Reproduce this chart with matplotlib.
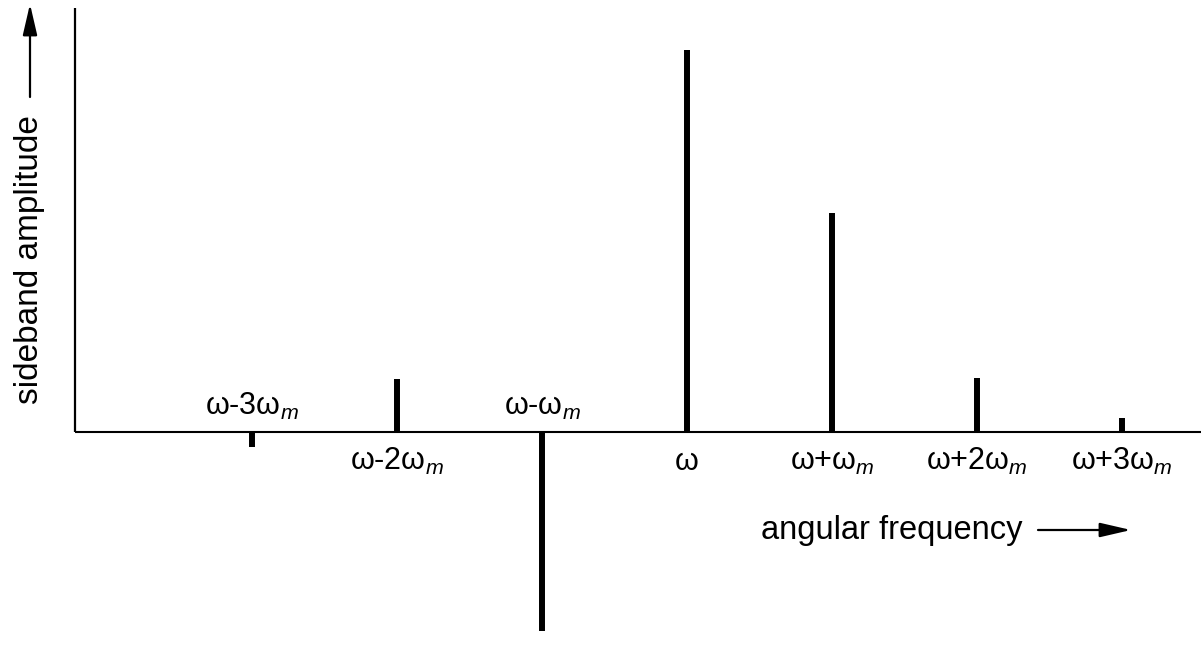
import matplotlib.pyplot as plt
import matplotlib as mpl

mpl.rcParams['font.family'] = ['Liberation Sans', 'DejaVu Sans']
mpl.rcParams['mathtext.fontset'] = 'custom'
mpl.rcParams['mathtext.rm'] = 'Liberation Sans'
mpl.rcParams['mathtext.it'] = 'Liberation Sans:italic'

# sideband index (multiples of omega_m) and amplitude (carrier = 1)
order = [-3, -2, -1, 0, 1, 2, 3]
amplitude = [-0.04, 0.14, -0.52, 1.0, 0.573, 0.141, 0.037]
labels = [r'ω-3ω$_{m}$', r'ω-2ω$_{m}$', r'ω-ω$_{m}$', 'ω',
          r'ω+ω$_{m}$', r'ω+2ω$_{m}$', r'ω+3ω$_{m}$']
label_above = [True, False, True, False, False, False, False]

W, H = 1201, 662
fig = plt.figure(figsize=(W / 100, H / 100), dpi=100)
# axes: left edge at px 75, top at px 8, bottom at figure bottom
ax = fig.add_axes([75 / W, 0, 1 - 75 / W, (H - 8) / H])
px = 382.0  # pixels per unit amplitude
ax.set_ylim(-(H - 432) / px, (432 - 8) / px)
step = 145.0
ax.set_xlim((75 - 687) / step, (W - 687) / step)
ax.axis('off')

ax.axhline(0, color='black', lw=1.5)
ax.plot([ax.get_xlim()[0]] * 2, [0, ax.get_ylim()[1]], color='black', lw=1.6,
        clip_on=False, solid_capstyle='butt')

ax.vlines(order, 0, amplitude, color='black', lw=4.3)

for k, lab, up in zip(order, labels, label_above):
    ax.annotate(lab, xy=(k, 0), xytext=(0, 12 if up else -27),
                textcoords='offset points', ha='center', va='baseline',
                fontsize=22)

# axis titles with arrows
fig.text(30 / W, 1 - 260 / H, 'sideband amplitude', rotation=90,
         ha='center', va='center', fontsize=24)
fig.text(892 / W, 1 - 530 / H, 'angular frequency', ha='center', va='center',
         fontsize=23.5)
arrow = dict(arrowstyle='-|>,head_length=0.95,head_width=0.22', color='black',
             lw=1.6, mutation_scale=20, shrinkA=0, shrinkB=0)
fig.add_artist(mpl.patches.FancyArrowPatch((30 / W, 1 - 97 / H), (30 / W, 1 - 4 / H),
                                           transform=fig.transFigure, **arrow))
fig.add_artist(mpl.patches.FancyArrowPatch((1038 / W, 1 - 530 / H), (1131 / W, 1 - 530 / H),
                                           transform=fig.transFigure, **arrow))

fig.savefig('out.png', dpi=100)
